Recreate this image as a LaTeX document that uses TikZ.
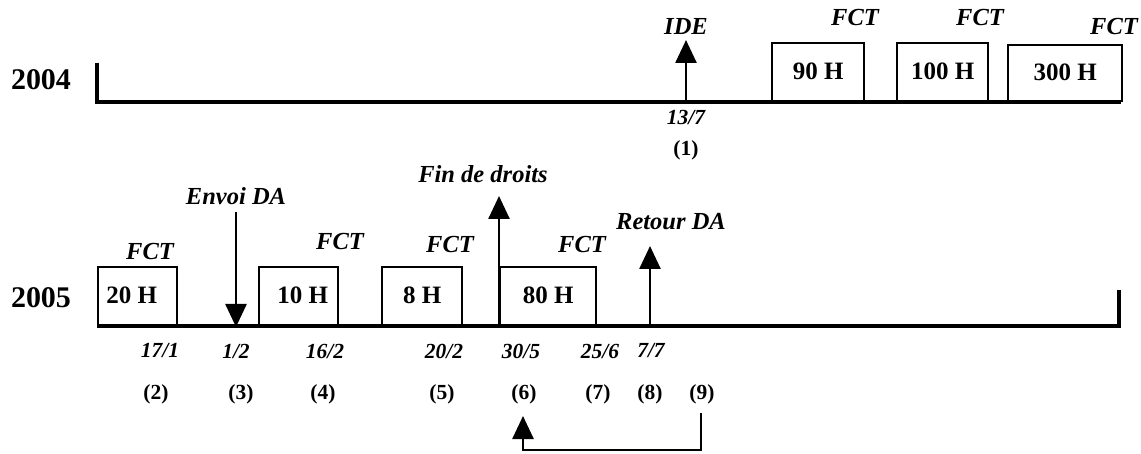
\documentclass[tikz,border=0pt]{standalone}
\usepackage{fontspec}
\setmainfont{Liberation Serif}
\usetikzlibrary{arrows.meta}
\tikzset{
  axis/.style={line width=3.2pt},
  hbox/.style={draw, line width=2.4pt, anchor=south west, inner sep=0pt, font=\fontsize{25}{25}\selectfont\bfseries},
  lab/.style={font=\fontsize{24.5}{24.5}\selectfont\bfseries\itshape, inner sep=0pt},
  date/.style={font=\fontsize{21.5}{21.5}\selectfont\bfseries\itshape, inner sep=0pt},
  num/.style={font=\fontsize{21.5}{21.5}\selectfont\bfseries, inner sep=0pt},
  year/.style={font=\fontsize{30}{30}\selectfont\bfseries, inner sep=0pt},
  evarrow/.style={line width=2.6pt, -{Triangle[width=21pt,length=23pt]}},
}
\begin{document}
\begin{tikzpicture}[x=1pt,y=-1pt]
\useasboundingbox (0,0) rectangle (1141,454);
% ---------- 2004 ----------
\node[year] (y2004) at (41,80) {2004};
\coordinate (a0) at (97,63);
\coordinate (a1) at (97,102);
\coordinate (a2) at (1121,102);
\draw[axis] (a0) -- (a1) -- (a2);
\node[hbox, minimum width=92pt, minimum height=58pt] (b90) at (771,102) {90 H};
\node[hbox, minimum width=91pt, minimum height=58pt] (b100) at (896,102) {100 H};
\node[hbox, minimum width=114pt, minimum height=56pt] (b300) at (1007,102) {300 H};
\node[lab] (f1) at (855,18) {FCT};
\node[lab] (f2) at (980,18) {FCT};
\node[lab] (f3) at (1114,27) {FCT};
\coordinate (ide0) at (686,102);
\coordinate (ide1) at (686,40);
\draw[evarrow] (ide0) -- (ide1);
\node[lab] (ide) at (686,27) {IDE};
\node[date] (d137) at (686,117) {13/7};
\node[num] (n1) at (686,150) {(1)};
% ---------- 2005 ----------
\node[year] (y2005) at (41,298) {2005};
\coordinate (c0) at (97,326);
\coordinate (c1) at (1119,326);
\coordinate (c2) at (1119,290);
\draw[axis] (c0) -- (c1) -- (c2);
\node[hbox, minimum width=79pt, minimum height=58pt] (b20) at (97,326) {\hspace*{-12pt}20 H};
\node[hbox, minimum width=79pt, minimum height=58pt] (b10) at (258,326) {\hspace*{8pt}10 H};
\node[hbox, minimum width=80pt, minimum height=58pt] (b8) at (381,326) {8 H};
\node[hbox, minimum width=96pt, minimum height=58pt] (b80) at (499,326) {80 H};
\node[lab] (g1) at (150,252) {FCT};
\node[lab] (g2) at (340,242) {FCT};
\node[lab] (g3) at (450,245) {FCT};
\node[lab] (g4) at (582,245) {FCT};
% events
\node[lab] (envoi) at (236,196) {Envoi DA};
\coordinate (e0) at (236,212);
\coordinate (e1) at (236,327);
\draw[evarrow] (e0) -- (e1);
\node[lab] (fin) at (483,174) {Fin de droits};
\coordinate (fd0) at (499,326);
\coordinate (fd1) at (499,196);
\draw[evarrow] (fd0) -- (fd1);
\node[lab] (ret) at (671,222) {Retour DA};
\coordinate (r0) at (650,326);
\coordinate (r1) at (650,246);
\draw[evarrow] (r0) -- (r1);
% dates
\node[date] (d171) at (160,351) {17/1};
\node[date] (d12) at (236,351) {1/2};
\node[date] (d162) at (325,351) {16/2};
\node[date] (d202) at (444,351) {20/2};
\node[date] (d305) at (521,351) {30/5};
\node[date] (d256) at (600,351) {25/6};
\node[date] (d77) at (651,351) {7/7};
% numbers
\node[num] (n2) at (156,394) {(2)};
\node[num] (n3) at (241,394) {(3)};
\node[num] (n4) at (323,394) {(4)};
\node[num] (n5) at (442,394) {(5)};
\node[num] (n6) at (524,394) {(6)};
\node[num] (n7) at (598,394) {(7)};
\node[num] (n8) at (650,394) {(8)};
\node[num] (n9) at (702,394) {(9)};
% loop connector
\coordinate (k0) at (701,413);
\coordinate (k1) at (701,450);
\coordinate (k2) at (523,450);
\coordinate (k3) at (523,416);
\draw[evarrow] (k0) -- (k1) -- (k2) -- (k3);
\end{tikzpicture}
\end{document}
